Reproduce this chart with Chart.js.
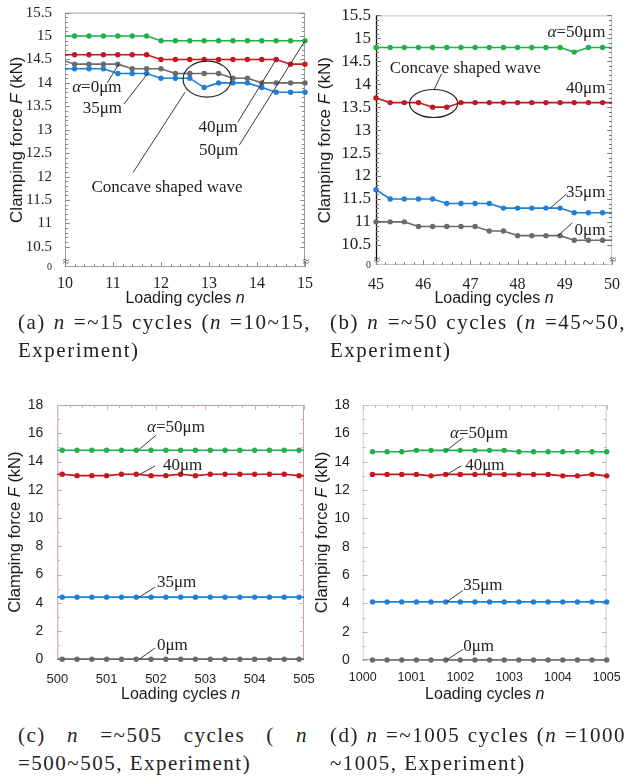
<!DOCTYPE html>
<html>
<head>
<meta charset="utf-8">
<script src="https://cdn.jsdelivr.net/npm/chart.js@4.4.1/dist/chart.umd.min.js"></script>
<style>
  body { margin: 0; background: #fff; width: 629px; height: 778px; position: relative; overflow: hidden; }
  canvas { position: absolute; }
  .cap { position: absolute; font-family: 'Liberation Serif', serif; font-size: 21px; letter-spacing: 1.5px; line-height: 28px; color: #222; }
  .cap .l1 { text-align: justify; text-align-last: justify; }
  .cap .l2 { white-space: nowrap; }
</style>
</head>
<body>
<canvas id="ca" width="320" height="312" style="left:0;top:0"></canvas>
<canvas id="cb" width="319" height="312" style="left:310px;top:0"></canvas>
<canvas id="cc" width="320" height="320" style="left:0;top:390px"></canvas>
<canvas id="cd" width="319" height="320" style="left:310px;top:390px"></canvas>

<div class="cap" style="left:18px;top:308px;width:293px">
  <div class="l1">(a) <i>n</i> =~15 cycles (<i>n</i> =10~15,</div>
  <div class="l2">Experiment)</div>
</div>
<div class="cap" style="left:330px;top:308px;width:296px">
  <div class="l1">(b) <i>n</i> =~50 cycles (<i>n</i> =45~50,</div>
  <div class="l2">Experiment)</div>
</div>
<div class="cap" style="left:18px;top:721px;width:290px">
  <div class="l1">(c) <i>n</i> =~505 cycles ( <i>n</i></div>
  <div class="l2">=500~505, Experiment)</div>
</div>
<div class="cap" style="left:330px;top:721px;width:296px">
  <div class="l1">(d) <i>n</i> =~1005 cycles (<i>n</i> =1000</div>
  <div class="l2">~1005, Experiment)</div>
</div>

<script>
// ---- (a) n = 10~15
const xA = [9.9, 10.2, 10.5, 10.8, 11.1, 11.4, 11.7, 12.0, 12.3, 12.6, 12.9, 13.2, 13.5, 13.8, 14.1, 14.4, 14.7, 15.0];
const a50 = [15.0, 15.0, 15.0, 15.0, 15.0, 15.0, 15.0, 14.9, 14.9, 14.9, 14.9, 14.9, 14.9, 14.9, 14.9, 14.9, 14.9, 14.9];
const a40 = [14.6, 14.6, 14.6, 14.6, 14.6, 14.6, 14.6, 14.5, 14.5, 14.5, 14.5, 14.5, 14.5, 14.5, 14.5, 14.5, 14.4, 14.4];
const a0  = [14.5, 14.4, 14.4, 14.4, 14.4, 14.3, 14.3, 14.3, 14.2, 14.2, 14.2, 14.2, 14.1, 14.1, 14.0, 14.0, 14.0, 14.0];
const a35 = [14.3, 14.3, 14.3, 14.3, 14.2, 14.2, 14.2, 14.1, 14.1, 14.1, 13.9, 14.0, 14.0, 14.0, 13.9, 13.8, 13.8, 13.8];
const xTickA = [10, 11, 12, 13, 14, 15];
const yTickA = [10.5, 11, 11.5, 12, 12.5, 13, 13.5, 14, 14.5, 15, 15.5];

// ---- (b) n = 45~50
const xB = [45.0, 45.3, 45.6, 45.9, 46.2, 46.5, 46.8, 47.1, 47.4, 47.7, 48.0, 48.3, 48.6, 48.9, 49.2, 49.5, 49.8, 50.1];
const b50 = [14.8, 14.8, 14.8, 14.8, 14.8, 14.8, 14.8, 14.8, 14.8, 14.8, 14.8, 14.8, 14.8, 14.8, 14.7, 14.8, 14.8, 14.8];
const b40 = [13.7, 13.6, 13.6, 13.6, 13.5, 13.5, 13.6, 13.6, 13.6, 13.6, 13.6, 13.6, 13.6, 13.6, 13.6, 13.6, 13.6, 13.6];
const b35 = [11.7, 11.5, 11.5, 11.5, 11.5, 11.4, 11.4, 11.4, 11.4, 11.3, 11.3, 11.3, 11.3, 11.3, 11.2, 11.2, 11.2, 11.2];
const b0  = [11.0, 11.0, 11.0, 10.9, 10.9, 10.9, 10.9, 10.9, 10.8, 10.8, 10.7, 10.7, 10.7, 10.7, 10.6, 10.6, 10.6, 10.6];
const xTickB = [45, 46, 47, 48, 49, 50];
const yTickB = [10.5, 11, 11.5, 12, 12.5, 13, 13.5, 14, 14.5, 15, 15.5];

// ---- (c) n = 500~505
const xC = [499.8, 500.1, 500.4, 500.7, 501.0, 501.3, 501.6, 501.9, 502.2, 502.5, 502.8, 503.1, 503.4, 503.7, 504.0, 504.3, 504.6, 504.9, 505.2];
const c50 = [14.8, 14.8, 14.8, 14.8, 14.8, 14.8, 14.8, 14.8, 14.8, 14.8, 14.8, 14.8, 14.8, 14.8, 14.8, 14.8, 14.8, 14.8, 14.8];
const c40 = [13.1, 13.1, 13.0, 13.0, 13.0, 13.1, 13.1, 13.0, 13.0, 13.1, 13.0, 13.1, 13.1, 13.1, 13.1, 13.1, 13.1, 13.0, 13.0];
const c35 = [4.4, 4.4, 4.4, 4.4, 4.4, 4.4, 4.4, 4.4, 4.4, 4.4, 4.4, 4.4, 4.4, 4.4, 4.4, 4.4, 4.4, 4.4, 4.4];
const c0  = [0, 0, 0, 0, 0, 0, 0, 0, 0, 0, 0, 0, 0, 0, 0, 0, 0, 0, 0];
const xTickC = [500, 501, 502, 503, 504, 505];

// ---- (d) n = 1000~1005
const xD = [1000.2, 1000.5, 1000.8, 1001.1, 1001.4, 1001.7, 1002.0, 1002.3, 1002.6, 1002.9, 1003.2, 1003.5, 1003.8, 1004.1, 1004.4, 1004.7, 1005.0];
const d50 = [14.7, 14.7, 14.7, 14.8, 14.8, 14.8, 14.8, 14.8, 14.8, 14.8, 14.7, 14.7, 14.7, 14.7, 14.7, 14.7, 14.7];
const d40 = [13.1, 13.1, 13.1, 13.1, 13.0, 13.1, 13.1, 13.1, 13.1, 13.1, 13.1, 13.1, 13.1, 13.0, 13.0, 13.1, 13.0];
const d35 = [4.1, 4.1, 4.1, 4.1, 4.1, 4.1, 4.1, 4.1, 4.1, 4.1, 4.1, 4.1, 4.1, 4.1, 4.1, 4.1, 4.1];
const d0  = [0, 0, 0, 0, 0, 0, 0, 0, 0, 0, 0, 0, 0, 0, 0, 0, 0];
const xTickD = [1000, 1001, 1002, 1003, 1004, 1005];
const yTickCD = [0, 2, 4, 6, 8, 10, 12, 14, 16, 18];

const GREEN = '#22b04c', RED = '#c8161e', BLUE = '#1f7fd4', GRAY = '#6a6a6a';
const SERIF = "'Liberation Serif', serif", SANS = "'Liberation Sans', Arial, sans-serif";

function ds(xs, ys, color, clip) {
    return {
        data: xs.map((v, i) => ({x: v, y: ys[i]})),
        borderColor: color,
        backgroundColor: color,
        borderWidth: 1.6,
        pointRadius: 2.7,
        pointBorderWidth: 0,
        tension: 0,
        clip: clip
    };
}

function rich(ctx, segs, x, y, align, size, fam) {
    let w = 0;
    segs.forEach(s => { ctx.font = (s[1] ? 'italic ' : '') + size + 'px ' + fam; w += ctx.measureText(s[0]).width; });
    let cx = align === 'center' ? x - w / 2 : align === 'right' ? x - w : x;
    ctx.textAlign = 'left';
    ctx.textBaseline = 'middle';
    segs.forEach(s => {
        ctx.font = (s[1] ? 'italic ' : '') + size + 'px ' + fam;
        ctx.fillText(s[0], cx, y);
        cx += ctx.measureText(s[0]).width;
    });
}

// frame, minor ticks, notes, titles
function makeDeco(cfg) {
    return {
        id: 'deco',
        beforeDatasetsDraw(chart) {
            const {ctx, chartArea: a, scales: {x, y}} = chart;
            ctx.save();
            ctx.lineWidth = 1;
            ctx.strokeStyle = cfg.frame;
            ctx.beginPath();
            ctx.moveTo(a.left + 0.5, a.bottom);
            ctx.lineTo(a.left + 0.5, a.top + 0.5);
            ctx.lineTo(a.right - 0.5, a.top + 0.5);
            ctx.lineTo(a.right - 0.5, a.bottom);
            ctx.stroke();
            ctx.strokeStyle = cfg.bottom || cfg.frame;
            ctx.beginPath();
            ctx.moveTo(a.left, a.bottom - 0.5);
            ctx.lineTo(a.right, a.bottom - 0.5);
            ctx.stroke();
            if (cfg.left) {
                ctx.strokeStyle = cfg.left;
                ctx.lineWidth = 1.3;
                ctx.beginPath();
                ctx.moveTo(a.left + 0.5, a.bottom);
                ctx.lineTo(a.left + 0.5, a.top);
                ctx.stroke();
            }
            ctx.lineWidth = 1;
            const ym = cfg.yMinor;
            if (ym) {
                ctx.strokeStyle = ym.color;
                ctx.beginPath();
                for (let k = 0; ; k++) {
                    const v = ym.from + k * ym.step;
                    if (v > y.max + 1e-6) break;
                    const py = Math.round(y.getPixelForValue(v)) + 0.5;
                    const len = (k % ym.every === 0) ? ym.len * 1.6 : ym.len;
                    ctx.moveTo(a.left, py); ctx.lineTo(a.left + len, py);
                    ctx.moveTo(a.right, py); ctx.lineTo(a.right - len, py);
                }
                ctx.stroke();
            }
            const xm = cfg.xMinor;
            if (xm) {
                ctx.strokeStyle = xm.color;
                ctx.beginPath();
                for (let k = 0; ; k++) {
                    const v = x.min + k * xm.step;
                    if (v > x.max + 1e-6) break;
                    const px = Math.round(x.getPixelForValue(v)) + 0.5;
                    const len = (k % xm.every === 0) ? xm.len * 1.6 : xm.len;
                    if (xm.side === 'top') { ctx.moveTo(px, a.top); ctx.lineTo(px, a.top + len); }
                    else { ctx.moveTo(px, a.bottom); ctx.lineTo(px, a.bottom - len); }
                }
                ctx.stroke();
            }
            ctx.restore();
        },
        afterDatasetsDraw(chart) {
            const {ctx, chartArea: a, scales: {x, y}} = chart;
            ctx.save();
            ctx.strokeStyle = '#222';
            ctx.fillStyle = '#222';
            ctx.lineWidth = 0.9;
            (cfg.lines || []).forEach(l => {
                ctx.beginPath();
                ctx.moveTo(x.getPixelForValue(l[0]), y.getPixelForValue(l[1]));
                ctx.lineTo(x.getPixelForValue(l[2]), y.getPixelForValue(l[3]));
                ctx.stroke();
            });
            ctx.lineWidth = 1.2;
            (cfg.ellipses || []).forEach(e => {
                const cx = x.getPixelForValue(e.x), cy = y.getPixelForValue(e.y);
                const rx = Math.abs(x.getPixelForValue(e.x + e.rx) - cx);
                const ry = Math.abs(y.getPixelForValue(e.y + e.ry) - cy);
                ctx.beginPath();
                ctx.ellipse(cx, cy, rx, ry, 0, 0, Math.PI * 2);
                ctx.stroke();
            });
            (cfg.notes || []).forEach(n => {
                rich(ctx, n.t, x.getPixelForValue(n.x), y.getPixelForValue(n.y), n.align, cfg.noteSize, SERIF);
            });
            if (cfg.breaks) {
                ctx.font = '11px ' + SERIF;
                ctx.textAlign = 'center';
                ctx.textBaseline = 'middle';
                ctx.fillText('\u2248', a.left + 1, a.bottom - 5);
                ctx.fillText('\u2248', a.right + 1, a.bottom - 5);
            }
            ctx.fillStyle = '#1a1a1a';
            rich(ctx, [['Loading cycles '], ['n', 1]], (a.left + a.right) / 2, a.bottom + cfg.xTitleGap, 'center', 16, SANS);
            ctx.translate(a.left - cfg.yTitleGap, (a.top + a.bottom) / 2);
            ctx.rotate(-Math.PI / 2);
            rich(ctx, [['Clamping force '], ['F', 1], [' (kN)']], 0, 0, 'center', cfg.yTitleSize, SANS);
            ctx.restore();
        }
    };
}

// scales report no extra padding, the layout padding alone places the plot area
function noPad(s) {
    s.paddingTop = 0; s.paddingBottom = 0; s.paddingLeft = 0; s.paddingRight = 0;
}

function makeChart(id, o) {
    const ctx = document.getElementById(id);
    new Chart(ctx, {
        type: 'line',
        data: {datasets: o.datasets},
        options: {
            responsive: false,
            animation: false,
            layout: {padding: o.padding},
            plugins: {legend: {display: false}, tooltip: {enabled: false}},
            scales: {
                x: {
                    type: 'linear',
                    min: o.xMin, max: o.xMax,
                    afterBuildTicks: s => { s.ticks = o.xTicks.map(v => ({value: v})); },
                    afterFit: s => { s.height = o.xHeight; noPad(s); },
                    grid: {display: false, drawTicks: false},
                    border: {display: false},
                    ticks: {autoSkip: false, maxRotation: 0, padding: o.xPad, color: '#222', font: o.xFont, callback: v => String(v)}
                },
                y: {
                    type: 'linear',
                    min: o.yMin, max: o.yMax,
                    afterBuildTicks: s => { s.ticks = o.yTicks.map(v => ({value: v})); },
                    afterFit: s => { s.width = o.yWidth; noPad(s); },
                    grid: {display: false, drawTicks: false},
                    border: {display: false},
                    ticks: {autoSkip: false, padding: o.yPad, color: '#222', font: o.yFont, callback: o.yLabel || (v => String(v))}
                }
            }
        },
        plugins: [makeDeco(o.deco)]
    });
}

const clipA = {left: 0, right: 4, top: 4, bottom: 0};
makeChart('ca', {
    datasets: [ds(xA, a35, BLUE, clipA), ds(xA, a0, GRAY, clipA), ds(xA, a40, RED, clipA), ds(xA, a50, GREEN, clipA)],
    padding: {left: 0, top: 12.6, right: 15, bottom: 0},
    xMin: 10, xMax: 15, xTicks: xTickA, xHeight: 45, xPad: 7, xFont: {family: SERIF, size: 16},
    yMin: 10.07, yMax: 15.5, yTicks: [10.07].concat(yTickA), yWidth: 65, yPad: 13,
    yFont: c => ({family: SERIF, size: c.tick && c.tick.value < 10.5 ? 10 : 15}),
    yLabel: v => v < 10.5 ? '0' : String(v),
    deco: {
        frame: '#a0a0a0', bottom: '#a0a0a0',
        yMinor: {from: 10.5, step: 0.1, every: 5, len: 3, color: '#888'},
        xMinor: {step: 0.2, every: 5, len: 3, color: '#888', side: 'bottom'},
        breaks: true, noteSize: 17, xTitleGap: 32, yTitleGap: 48, yTitleSize: 17,
        notes: [
            {t: [['\u03b1', 1], ['=0\u03bcm']], x: 10.15, y: 13.89, align: 'left'},
            {t: [['35\u03bcm']], x: 10.37, y: 13.46, align: 'left'},
            {t: [['Concave shaped wave']], x: 12.125, y: 11.77, align: 'center'},
            {t: [['40\u03bcm']], x: 13.19, y: 13.05, align: 'center'},
            {t: [['50\u03bcm']], x: 13.2, y: 12.56, align: 'center'}
        ],
        lines: [
            [10.88, 14.0, 11.12, 14.4],
            [11.23, 13.55, 11.73, 14.21],
            [11.42, 12.09, 12.5, 13.8],
            [13.6, 13.16, 14.4, 14.5],
            [13.63, 12.67, 15.0, 14.9]
        ],
        ellipses: [{x: 12.96, y: 14.08, rx: 0.5, ry: 0.385}]
    }
});

const clipB = {left: 4, right: 0, top: 4, bottom: 0};
makeChart('cb', {
    datasets: [ds(xB, b35, BLUE, clipB), ds(xB, b0, GRAY, clipB), ds(xB, b40, RED, clipB), ds(xB, b50, GREEN, clipB)],
    padding: {left: 0, top: 15.4, right: 17, bottom: 0},
    xMin: 45, xMax: 50, xTicks: xTickB, xHeight: 47, xPad: 10, xFont: {family: SERIF, size: 16},
    yMin: 10.06, yMax: 15.5, yTicks: [10.06].concat(yTickB), yWidth: 66, yPad: 5,
    yFont: c => ({family: SERIF, size: c.tick && c.tick.value < 10.5 ? 10 : 17}),
    yLabel: v => v < 10.5 ? '0' : String(v),
    deco: {
        frame: '#c4c4c4', bottom: '#c4c4c4', left: '#111',
        yMinor: {from: 10.5, step: 0.1, every: 5, len: 3, color: '#777'},
        xMinor: {step: 0.2, every: 5, len: 3, color: '#888', side: 'bottom'},
        breaks: true, noteSize: 17, xTitleGap: 34, yTitleGap: 51, yTitleSize: 17,
        notes: [
            {t: [['\u03b1', 1], ['=50\u03bcm']], x: 49.86, y: 15.12, align: 'right'},
            {t: [['Concave shaped wave']], x: 46.89, y: 14.35, align: 'center'},
            {t: [['40\u03bcm']], x: 49.86, y: 13.9, align: 'right'},
            {t: [['35\u03bcm']], x: 49.86, y: 11.63, align: 'right'},
            {t: [['0\u03bcm']], x: 49.86, y: 10.82, align: 'right'}
        ],
        lines: [
            [46.23, 13.88, 46.39, 14.23],
            [48.69, 11.3, 49.03, 11.6],
            [48.86, 10.7, 49.16, 10.98]
        ],
        ellipses: [{x: 46.22, y: 13.58, rx: 0.51, ry: 0.305}]
    }
});

const clipC = {left: 0, right: 0, top: 4, bottom: 4};
makeChart('cc', {
    datasets: [ds(xC, c35, BLUE, clipC), ds(xC, c0, GRAY, clipC), ds(xC, c40, RED, clipC), ds(xC, c50, GREEN, clipC)],
    padding: {left: 0, top: 15, right: 16, bottom: 0},
    xMin: 500, xMax: 505, xTicks: xTickC, xHeight: 50.7, xPad: 12, xFont: {family: SANS, size: 13},
    yMin: 0, yMax: 18, yTicks: yTickCD, yWidth: 57.3, yPad: 14, yFont: {family: SANS, size: 14},
    deco: {
        frame: '#d89a9a', bottom: '#777',
        yMinor: {from: 0, step: 1, every: 2, len: 3, color: '#bbb'},
        xMinor: {step: 0.25, every: 4, len: 3, color: '#bbb', side: 'top'},
        noteSize: 17, xTitleGap: 35, yTitleGap: 42, yTitleSize: 16.5,
        notes: [
            {t: [['\u03b1', 1], ['=50\u03bcm']], x: 501.82, y: 16.37, align: 'left'},
            {t: [['40\u03bcm']], x: 502.14, y: 13.75, align: 'left'},
            {t: [['35\u03bcm']], x: 502.02, y: 5.4, align: 'left'},
            {t: [['0\u03bcm']], x: 502.02, y: 1.0, align: 'left'}
        ],
        lines: [
            [501.66, 14.86, 502.0, 15.85],
            [501.66, 13.07, 501.98, 13.68],
            [501.66, 4.4, 501.98, 5.1],
            [501.66, 0, 501.98, 0.8]
        ]
    }
});

const clipD = {left: 4, right: 4, top: 4, bottom: 4};
makeChart('cd', {
    datasets: [ds(xD, d35, BLUE, clipD), ds(xD, d0, GRAY, clipD), ds(xD, d40, RED, clipD), ds(xD, d50, GREEN, clipD)],
    padding: {left: 0, top: 15, right: 22.3, bottom: 0},
    xMin: 1000, xMax: 1005, xTicks: xTickD, xHeight: 50, xPad: 10, xFont: {family: SANS, size: 12.5},
    yMin: 0, yMax: 18, yTicks: yTickCD, yWidth: 52.7, yPad: 13, yFont: {family: SANS, size: 14},
    deco: {
        frame: '#cfcfcf', bottom: '#999',
        yMinor: {from: 0, step: 1, every: 2, len: 3, color: '#bbb'},
        xMinor: {step: 0.25, every: 4, len: 3, color: '#bbb', side: 'top'},
        noteSize: 17, xTitleGap: 35, yTitleGap: 40, yTitleSize: 16.5,
        notes: [
            {t: [['\u03b1', 1], ['=50\u03bcm']], x: 1001.79, y: 16.0, align: 'left'},
            {t: [['40\u03bcm']], x: 1002.1, y: 13.76, align: 'left'},
            {t: [['35\u03bcm']], x: 1002.06, y: 5.29, align: 'left'},
            {t: [['0\u03bcm']], x: 1002.06, y: 0.94, align: 'left'}
        ],
        lines: [
            [1001.72, 14.8, 1002.06, 15.7],
            [1001.72, 13.1, 1002.02, 13.7],
            [1001.72, 4.1, 1002.05, 4.9],
            [1001.72, 0, 1002.05, 0.75]
        ]
    }
});
</script>
</body>
</html>
